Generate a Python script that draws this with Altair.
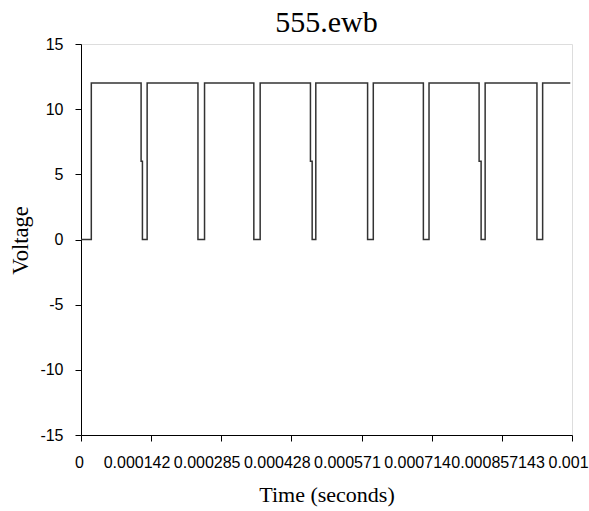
import altair as alt
import pandas as pd

# Square-wave samples (time in seconds, voltage in volts)
times = [
    0.0, 0.0000210, 0.0000210,
    0.0001224, 0.0001224, 0.0001251, 0.0001251, 0.0001347, 0.0001347,
    0.0002382, 0.0002382, 0.0002516, 0.0002516,
    0.0003520, 0.0003520, 0.0003649, 0.0003649,
    0.0004673, 0.0004673, 0.0004708, 0.0004708, 0.0004782, 0.0004782,
    0.0005837, 0.0005837, 0.0005953, 0.0005953,
    0.0006973, 0.0006973, 0.0007088, 0.0007088,
    0.0008108, 0.0008108, 0.0008149, 0.0008149, 0.0008231, 0.0008231,
    0.0009286, 0.0009286, 0.0009402, 0.0009402,
    0.0009965,
]
volts = [
    0, 0, 12,
    12, 6, 6, 0, 0, 12,
    12, 0, 0, 12,
    12, 0, 0, 12,
    12, 6, 6, 0, 0, 12,
    12, 0, 0, 12,
    12, 0, 0, 12,
    12, 6, 6, 0, 0, 12,
    12, 0, 0, 12,
    12,
]

x_ticks = [i * 0.001 / 7 for i in range(8)]
x_labels = ["0", "0.000142", "0.000285", "0.000428", "0.000571", "0.000714",
            "0.000857143", "0.001"]
y_ticks = [-15, -10, -5, 0, 5, 10, 15]

df = pd.DataFrame({"t": times, "v": volts, "order": list(range(len(times)))})

label_expr = "{" + ",".join(f"'{i}':'{l}'" for i, l in enumerate(x_labels)) + "}"
label_expr = f"{label_expr}[''+round(datum.value*7000)]"

SERIF = "Liberation Serif, Times New Roman, serif"
SANS = "Liberation Sans, Arial, sans-serif"

chart = alt.Chart(df).mark_line(color="#333333", strokeWidth=1.5).encode(
    x=alt.X("t:Q",
            scale=alt.Scale(domain=[0, 0.001], nice=False, zero=False),
            axis=alt.Axis(values=x_ticks, labelExpr=label_expr, grid=False,
                          title="Time (seconds)", titleFontSize=22,
                          titleFontWeight="normal", titleFont=SERIF,
                          titleY=66, titleBaseline="alphabetic",
                          labelFont=SANS, labelFontSize=16,
                          labelBaseline="middle",
                          labelAlign={"condition": {"test": "datum.value == 0", "value": "center"},
                                      "value": "left"},
                          labelOffset={"condition": [
                              {"test": "datum.value == 0", "value": -2},
                              {"test": "datum.value > 0.00099", "value": -24},
                              {"test": "datum.value > 0.00085", "value": -51}],
                              "value": -48},
                          labelPadding=21, labelOverlap=False, labelFlush=False,
                          labelBound=False,
                          tickSize=6, domainColor="black", tickColor="black",
                          labelColor="black", titleColor="black")),
    y=alt.Y("v:Q",
            scale=alt.Scale(domain=[-15, 15], nice=False, zero=False),
            axis=alt.Axis(values=y_ticks, grid=False, title="Voltage",
                          labelExpr="'' + datum.value",
                          titleFontSize=22.5, titleFontWeight="normal",
                          titleFont=SERIF, titleX=-61, titleY=196,
                          titleAngle=-90, titleBaseline="middle", titleAlign="center",
                          labelFont=SANS, labelFontSize=16,
                          labelPadding=12, tickSize=6, domainColor="black",
                          tickColor="black", labelColor="black", titleColor="black")),
    order="order:Q",
).properties(
    width=491,
    height=391,
    title=alt.TitleParams("555.ewb", font=SERIF, fontSize=30,
                          fontWeight="normal", color="black", offset=-32,
                          baseline="bottom"),
    autosize=alt.AutoSizeParams(type="none"),
    padding={"left": 81, "top": 44, "right": 17, "bottom": 76},
).configure_view(stroke=None).configure(background="white")

chart.save("out.html", embed_options={"renderer": "svg", "actions": False})
